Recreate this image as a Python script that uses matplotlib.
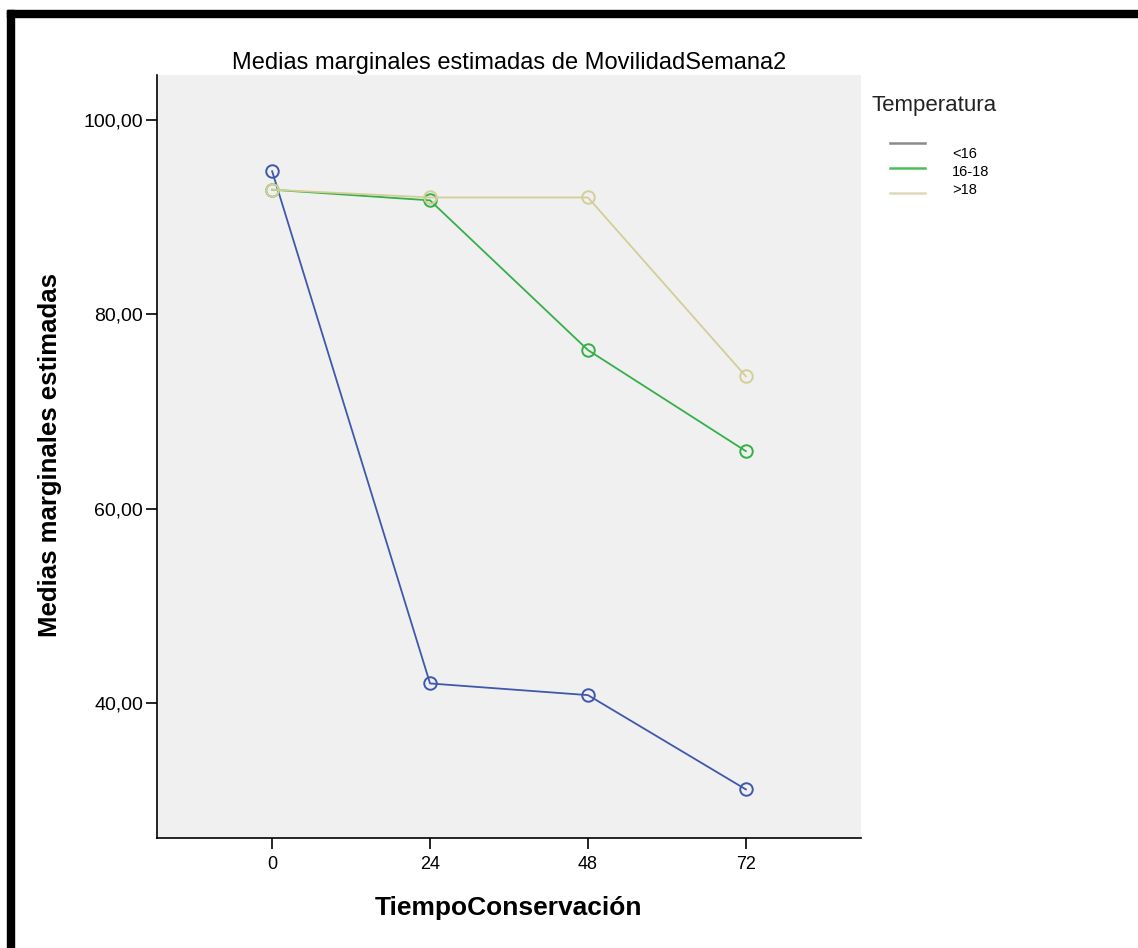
import matplotlib
matplotlib.use("Agg")
import matplotlib.pyplot as plt
from matplotlib.lines import Line2D
from matplotlib.patches import Rectangle

# data
tiempo = [0, 24, 48, 72]
temp_labels = ["<16", "16-18", ">18"]
medias_lt16 = [94.7, 42.0, 40.8, 31.1]
medias_16_18 = [92.8, 91.7, 76.3, 65.9]
medias_gt18 = [92.8, 92.0, 92.0, 73.6]
y_ticks = [40, 60, 80, 100]
y_tick_labels = ["40,00", "60,00", "80,00", "100,00"]

colors = ["#3e58ac", "#34b048", "#d3ce97"]
legend_colors = ["#8a8a8a", "#4cbf5a", "#dedbb8"]

plt.rcParams["font.family"] = ["Liberation Sans", "DejaVu Sans"]

W, H = 1138, 948
fig = plt.figure(figsize=(W / 100, H / 100), dpi=100)
fig.patch.set_facecolor("white")

# black frame of the screenshot (left and top)
fig.add_artist(Rectangle((7 / W, 0), 7 / W, 1 - 10 / H,
                         transform=fig.transFigure, color="black", zorder=5))
fig.add_artist(Rectangle((7 / W, 1 - 17 / H), 1 - 7 / W, 7 / H,
                         transform=fig.transFigure, color="black", zorder=5))

ax = fig.add_axes([157 / W, 110 / H, 704 / W, 763 / H])
ax.set_facecolor("#f0f0f0")

series = [medias_lt16, medias_16_18, medias_gt18]
for vals, c in zip(series, colors):
    ax.plot(tiempo, vals, color=c, linewidth=1.3, marker="o", markersize=9,
            markerfacecolor="none", markeredgecolor=c, markeredgewidth=1.4)

ax.set_xlim(-17.5, 89.5)
ax.set_ylim(26.1, 104.6)
ax.set_xticks(tiempo)
ax.set_xticklabels([str(t) for t in tiempo], fontsize=13)
ax.set_yticks(y_ticks)
ax.set_yticklabels(y_tick_labels, fontsize=14)
ax.tick_params(length=8, width=1.2, color="black", pad=2)
ax.tick_params(axis="x", pad=5)

for s in ["top", "right"]:
    ax.spines[s].set_visible(False)
for s in ["left", "bottom"]:
    ax.spines[s].set_linewidth(1.2)

ax.set_title("Medias marginales estimadas de MovilidadSemana2", fontsize=17, pad=4)
ax.set_xlabel("TiempoConservación", fontsize=19, fontweight="bold")
ax.xaxis.set_label_coords((509 - 157) / 704, (H - 908 - 110) / 763)
ax.set_ylabel("Medias marginales estimadas", fontsize=18.5, fontweight="bold")
ax.yaxis.set_label_coords((50 - 157) / 704, (H - 455 - 110) / 763)
ax.xaxis.label.set_va("center")
ax.yaxis.label.set_va("center")

# legend drawn as in the SPSS output: title, short lines and labels
fig.text(872 / W, 1 - 106 / H, "Temperatura", fontsize=16, va="center", ha="left",
         color="#222222")
line_y = [143, 168, 193]
text_y = [154, 172, 190]
for c, lab, ly, ty in zip(legend_colors, temp_labels, line_y, text_y):
    fig.add_artist(Line2D([890 / W, 925 / W], [1 - ly / H, 1 - ly / H],
                          transform=fig.transFigure, color=c, linewidth=1.8))
    fig.text(952 / W, 1 - ty / H, lab, fontsize=10.5, va="center", ha="left")

fig.savefig("out.png", dpi=100)
